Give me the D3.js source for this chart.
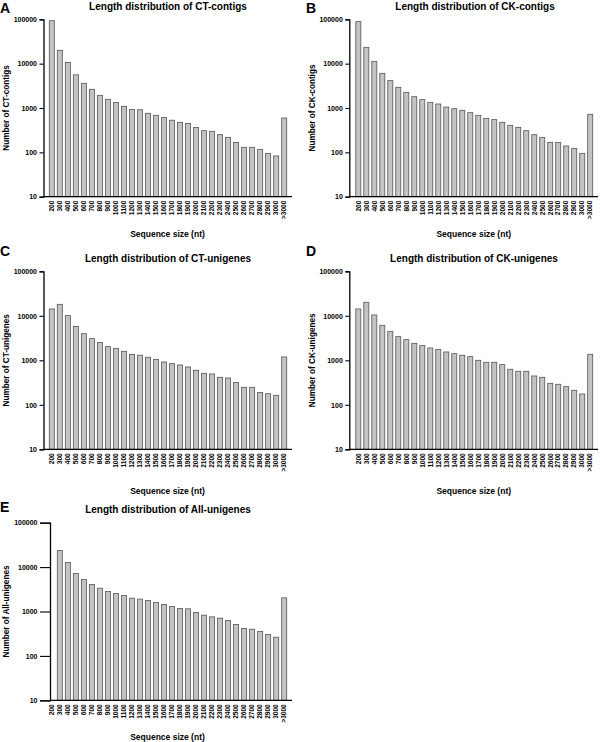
<!DOCTYPE html>
<html><head><meta charset="utf-8">
<script src="https://cdn.jsdelivr.net/npm/d3@7/dist/d3.min.js"></script>
<style>
body{margin:0;background:#fff;}
svg{display:block;font-family:"Liberation Sans",Arial,sans-serif;}
</style></head>
<body>
<svg id="chart" width="600" height="742"></svg>
<script>
const categories = ["200","300","400","500","600","700","800","900","1000","1100","1200","1300","1400","1500","1600","1700","1800","1900","2000","2100","2200","2300","2400","2500","2600","2700","2800","2900","3000",">3000"];
const yTicks = [10,100,1000,10000,100000];
const ctContigs = [93000,20000,10700,5600,3600,2640,1930,1570,1340,1090,930,915,760,685,615,530,475,450,365,308,298,250,218,168,130,130,117,95,83,594];
const ckContigs = [88500,23300,11300,6050,4140,2930,2260,1800,1540,1340,1230,1050,966,886,785,684,585,546,475,406,366,308,250,218,168,168,139,123,95,720];
const ctUnigenes = [14250,18100,10100,5800,3970,3070,2500,2030,1860,1590,1360,1300,1170,1050,918,841,786,709,596,510,493,415,401,315,247,247,188,178,163,1190];
const ckUnigenes = [14250,20100,10450,6120,4480,3400,2910,2410,2140,1890,1740,1540,1410,1300,1210,1000,902,902,800,628,566,566,445,415,304,289,256,212,175,1365];
const allUnigenes = [0,23700,12700,7200,5250,4050,3350,2820,2540,2290,1995,1900,1770,1600,1440,1300,1170,1150,950,827,758,708,627,509,414,400,355,304,264,2030];
const letters = ["A","B","C","D","E"];
const titles = ["Length distribution of CT-contigs","Length distribution of CK-contigs","Length distribution of CT-unigenes","Length distribution of CK-unigenes","Length distribution of All-unigenes"];
const yTitles = ["Number of CT-contigs","Number of CK-contigs","Number of CT-unigenes","Number of CK-unigenes","Number of All-unigenes"];
const xTitle = "Sequence size (nt)";
const seriesList = [ctContigs, ckContigs, ctUnigenes, ckUnigenes, allUnigenes];

// layout
const layouts = [
  {ox:0,   top:19.3,  bottom:196.7, axisX:43.5, r0:44,    r1:292,  tick:4,  letterY:12.5, titleY:10,    titleX:168, xTitleY:236.5},
  {ox:306, top:19.3,  bottom:196.7, axisX:349.3,r0:350.5, r1:598,  tick:4,  letterY:12.5, titleY:10,    titleX:475, xTitleY:236.5},
  {ox:0,   top:271.3, bottom:449.3, axisX:43.5, r0:44,    r1:292,  tick:4,  letterY:256,  titleY:261.5, titleX:168, xTitleY:494},
  {ox:306, top:271.3, bottom:449.3, axisX:349.3,r0:350.5, r1:598,  tick:4,  letterY:256,  titleY:261.5, titleX:474, xTitleY:494},
  {ox:0,   top:522.7, bottom:700.3, axisX:50,   r0:44,    r1:292,  tick:10, letterY:512,  titleY:513,   titleX:168, xTitleY:740}
];

const svg = d3.select("#chart");

seriesList.forEach((vals, i) => {
  const L = layouts[i];
  const g = svg.append("g");
  const x = d3.scaleBand().domain(categories).range([L.r0, L.r1]).paddingInner(0.37).paddingOuter(0.66);
  const y = d3.scaleLog().domain([10, 100000]).range([L.bottom, L.top]);

  // bars
  const data = categories.map((c, k) => ({c, v: vals[k]})).filter(d => d.v > 10);
  g.selectAll("rect.bar").data(data).enter().append("rect")
    .attr("class","bar")
    .attr("x", d => x(d.c))
    .attr("width", x.bandwidth())
    .attr("y", d => y(d.v))
    .attr("height", d => y(10) - y(d.v))
    .attr("fill", "#c3c3c3")
    .attr("stroke", "#555")
    .attr("stroke-width", 0.8);

  // y axis
  const ya = g.append("g").attr("transform", `translate(${L.axisX},0)`)
    .call(d3.axisLeft(y).tickValues(yTicks).tickFormat(d3.format("d")).tickSize(L.tick).tickPadding(2.5));
  ya.select(".domain").attr("stroke","#000").attr("stroke-width",1.3);
  ya.selectAll(".tick line").attr("stroke","#000").attr("stroke-width",1.1);
  ya.selectAll(".tick text").attr("font-size","7px").attr("font-weight","bold").attr("fill","#000")
    .attr("font-family","'Liberation Sans',Arial,sans-serif");

  // x axis
  const xa = g.append("g").attr("transform", `translate(0,${L.bottom})`)
    .call(d3.axisBottom(x).tickSize(0).tickPadding(0));
  xa.select(".domain").remove();
  xa.selectAll(".tick text")
    .attr("font-size","6.5px").attr("font-weight","bold").attr("fill","#000")
    .attr("font-family","'Liberation Sans',Arial,sans-serif")
    .attr("text-anchor","end")
    .attr("dy","0.35em")
    .attr("transform","translate(0,4) rotate(-90)")
    .attr("y",0).attr("x",0);
  g.append("line")
    .attr("x1", L.axisX).attr("x2", L.r1)
    .attr("y1", L.bottom).attr("y2", L.bottom)
    .attr("stroke","#000").attr("stroke-width",1.3);

  // texts
  g.append("text").attr("x", L.ox).attr("y", L.letterY)
    .attr("font-size","14px").attr("font-weight","bold").text(letters[i]);
  g.append("text").attr("x", L.titleX).attr("y", L.titleY)
    .attr("text-anchor","middle").attr("font-size","10px").attr("font-weight","bold").text(titles[i]);
  g.append("text")
    .attr("transform", `translate(${L.ox + 8.5},${(L.top + L.bottom) / 2}) rotate(-90)`)
    .attr("text-anchor","middle").attr("font-size","8.2px").attr("font-weight","bold").text(yTitles[i]);
  g.append("text").attr("x", (L.r0 + L.r1) / 2 - 0.5).attr("y", L.xTitleY)
    .attr("text-anchor","middle").attr("font-size","8.5px").attr("font-weight","bold").text(xTitle);
});
</script>
</body></html>
